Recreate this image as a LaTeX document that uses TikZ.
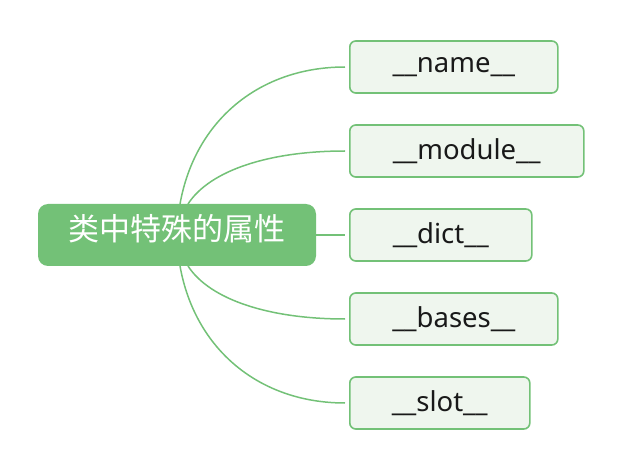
\documentclass[tikz,border=0pt]{standalone}
\usepackage{fontspec}
\setmainfont{Noto Sans}
\newfontfamily\cjk{Noto Sans CJK SC}
\usetikzlibrary{positioning}
\definecolor{mapgreen}{HTML}{73C177}
\definecolor{leafbg}{HTML}{EFF6EE}
\tikzset{
  rootbox/.style={draw=none, fill=mapgreen, rounded corners=10pt, minimum width=278pt, minimum height=62pt, text height=27pt, text depth=16pt, text=white, font=\cjk\fontsize{31}{34}\selectfont},
  leafbox/.style={draw=mapgreen, line width=1.6pt, fill=leafbg, rounded corners=6pt, minimum height=52pt, inner sep=0pt, text=black!90, font=\fontsize{27.5}{30}\selectfont},
  branch/.style={draw=mapgreen, line width=1.5pt}
}

\begin{document}
\begin{tikzpicture}[x=1pt, y=1pt]
  \useasboundingbox (0,0) rectangle (622,-468);
  \node[rootbox] (root) at (177,-235) {类中特殊的属性};
  \foreach \n/\y/\w in {name/67/208, module/151/234, dict/235/182, bases/319/208, slot/403/180}{%
    \node[leafbox, minimum width=\w pt, anchor=west] (\n) at (349,-\y) {\_\_\n\_\_};
  }
  \coordinate (top1) at (180,-204);
  \coordinate (top2) at (188,-204);
  \coordinate (bot2) at (188,-266);
  \coordinate (bot1) at (180,-266);
  \draw[branch] (top1) .. controls (195,-120) and (260,-67) .. ([xshift=-4pt]name.west);
  \draw[branch] (top2) .. controls (210,-170) and (270,-151) .. ([xshift=-4pt]module.west);
  \draw[branch] (root.east) -- ([xshift=-4pt]dict.west);
  \draw[branch] (bot2) .. controls (210,-300) and (270,-319) .. ([xshift=-4pt]bases.west);
  \draw[branch] (bot1) .. controls (195,-350) and (260,-403) .. ([xshift=-4pt]slot.west);
\end{tikzpicture}
\end{document}
